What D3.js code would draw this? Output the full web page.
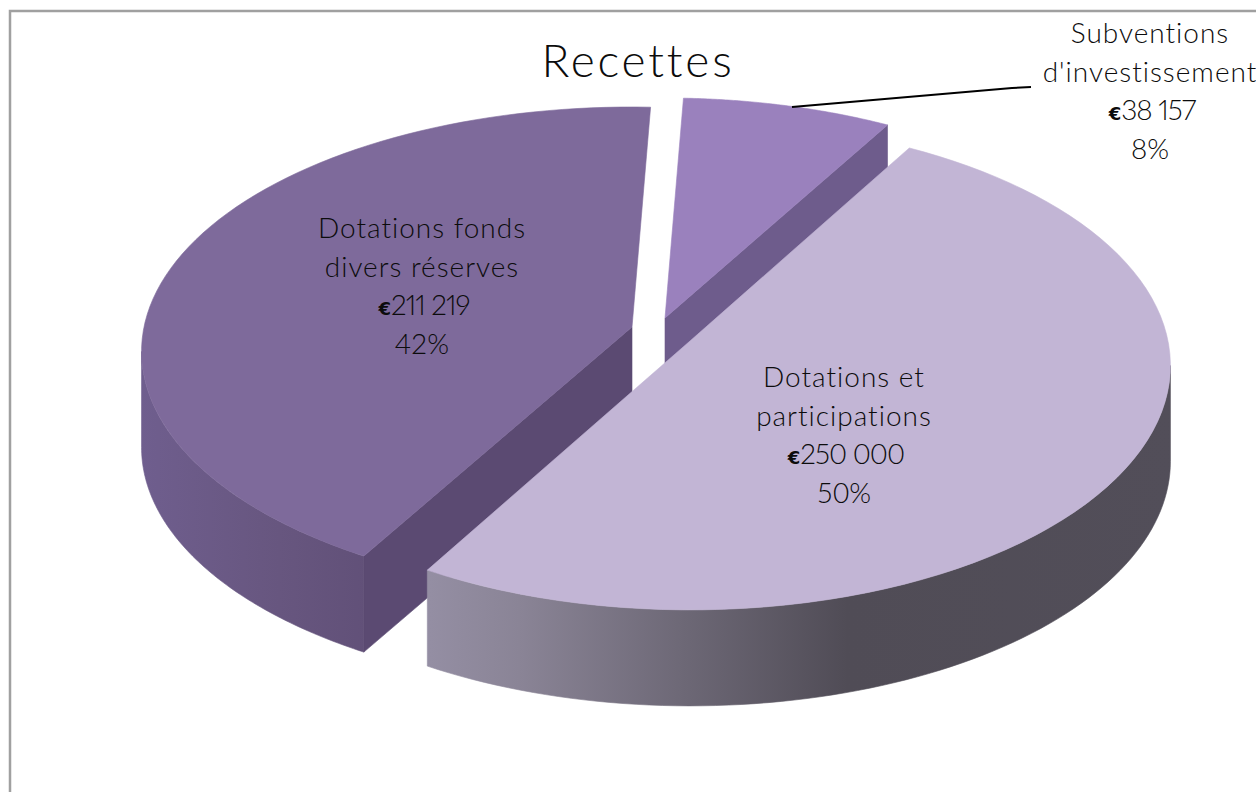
<!DOCTYPE html>
<html>
<head>
<meta charset="utf-8">
<style>
  html, body { margin: 0; background: #fff; }
  text { font-family: Lato, "Open Sans", sans-serif; font-weight: 300; fill: #0c0c0c; }
</style>
</head>
<body>
<div id="chart"></div>
<script src="https://cdn.jsdelivr.net/npm/d3@7"></script>
<script>
const WIDTH = 1256;
const HEIGHT = 792;

const categories = ["Subventions d'investissement", "Dotations et participations", "Dotations fonds divers réserves"];
const amounts = [38157, 250000, 211219];
const amountLabels = ["38 157", "250 000", "211 219"];
const percentLabels = ["8%", "50%", "42%"];

// display settings per slice, same order as categories
const labelLines = [["Subventions", "d'investissement"], ["Dotations et", "participations"], ["Dotations fonds", "divers réserves"]];
const topColors = ["#9a81bd", "#c2b5d5", "#7e6a9b"];
const faceColors = ["#6e5c8c", null, "#5b4a72"];
const centers = [[665, 318], [690, 341], [632, 327]];
const radiusX = [485, 478, 488];
const labelPos = [[1150, 43], [844, 387], [422, 238]];
const wallStops = [
  null,
  [["0%", "#948ea3"], ["12%", "#8a8496"], ["56%", "#504c56"], ["100%", "#524e59"]],
  [["0%", "#6f5e8e"], ["60%", "#67567f"], ["100%", "#615078"]]
];

// flattened circle seen from above, far side is smaller
const RY = 242, PERSP = 0.1, DEPTH = 96;

const svg = d3.select("#chart").append("svg")
    .attr("width", WIDTH)
    .attr("height", HEIGHT)
    .style("display", "block");

const defs = svg.append("defs");

svg.append("rect")
    .attr("x", 10).attr("y", 11)
    .attr("width", 1400).attr("height", 1000)
    .attr("fill", "#fff")
    .attr("stroke", "#a0a0a0")
    .attr("stroke-width", 2.5);

const start = 2.4 * Math.PI / 180;
const pie = d3.pie().sort(null).startAngle(start).endAngle(start + 2 * Math.PI);
const slices = pie(amounts);

function project(i, a, down) {
  const w = 1 + PERSP * Math.cos(a);
  return [
    centers[i][0] + radiusX[i] * Math.sin(a) / w,
    centers[i][1] - RY * Math.cos(a) / w + (down ? DEPTH : 0)
  ];
}

const line = d3.line();
const rim = (i, a0, a1, down) => {
  const steps = d3.scaleLinear().domain([0, 80]).range([a0, a1]);
  return d3.range(81).map(k => project(i, steps(k), down));
};

function slicePath(i, s) {
  return line([centers[i], ...rim(i, s.startAngle, s.endAngle, false)]) + "Z";
}

function wallPath(i, s) {
  // the wall runs between the widest points of the rim
  const widest = Math.acos(-PERSP);
  const a0 = Math.max(s.startAngle, widest);
  const a1 = Math.min(s.endAngle, 2 * Math.PI - widest);
  return line([...rim(i, a0, a1, false), ...rim(i, a1, a0, true)]) + "Z";
}

function facePath(i, a) {
  const c = centers[i];
  return line([c, project(i, a, false), project(i, a, true), [c[0], c[1] + DEPTH]]) + "Z";
}

// painted back to front so the big slice covers the others
[2, 0, 1].forEach(i => {
  const s = slices[i];
  const g = svg.append("g");

  if (wallStops[i]) {
    const grad = defs.append("linearGradient")
        .attr("id", "wall" + i)
        .attr("gradientUnits", "userSpaceOnUse")
        .attr("x1", i === 1 ? 430 : 140).attr("x2", i === 1 ? 1175 : 372)
        .attr("y1", 0).attr("y2", 0);
    grad.selectAll("stop").data(wallStops[i]).enter().append("stop")
        .attr("offset", d => d[0])
        .attr("stop-color", d => d[1]);
    g.append("path")
        .attr("d", wallPath(i, s))
        .attr("fill", `url(#wall${i})`)
        .attr("stroke", `url(#wall${i})`)
        .attr("stroke-width", 0.6);
  }

  if (faceColors[i]) {
    const a = i === 2 ? s.startAngle : s.endAngle;
    g.append("path")
        .attr("d", facePath(i, a))
        .attr("fill", faceColors[i])
        .attr("stroke", faceColors[i])
        .attr("stroke-width", 0.6);
  }

  g.append("path")
      .attr("d", slicePath(i, s))
      .attr("fill", topColors[i])
      .attr("stroke", topColors[i])
      .attr("stroke-width", 0.6);
});

// leader line to the small slice label
svg.append("path")
    .attr("d", line([[792, 107], [1012, 88], [1031, 87]]))
    .attr("fill", "none")
    .attr("stroke", "#000")
    .attr("stroke-width", 2);

svg.append("text")
    .attr("x", 638).attr("y", 77)
    .attr("text-anchor", "middle")
    .style("font-size", "46px")
    .style("letter-spacing", "2.8px")
    .style("font-variant-ligatures", "none")
    .text("Recettes");

categories.forEach((c, i) => {
  const [x, y] = labelPos[i];
  const t = svg.append("text")
      .attr("text-anchor", "middle")
      .attr("data-category", c)
      .style("font-size", "28px");
  labelLines[i].forEach((l, k) => {
    t.append("tspan")
        .attr("x", x).attr("y", y + k * 38.5)
        .style("letter-spacing", "1px")
        .style("font-variant-ligatures", "none")
        .text(l);
  });
  const money = t.append("tspan").attr("x", x + 2).attr("y", y + 2 * 38.5);
  money.append("tspan")
      .style("font-family", "'DejaVu Sans'")
      .style("font-weight", 700)
      .style("font-size", "18px")
      .text("€");
  money.append("tspan")
      .style("letter-spacing", "-1px")
      .style("font-variant-numeric", "proportional-nums")
      .text(amountLabels[i]);
  t.append("tspan").attr("x", x).attr("y", y + 3 * 38.5).text(percentLabels[i]);
});
</script>
</body>
</html>
